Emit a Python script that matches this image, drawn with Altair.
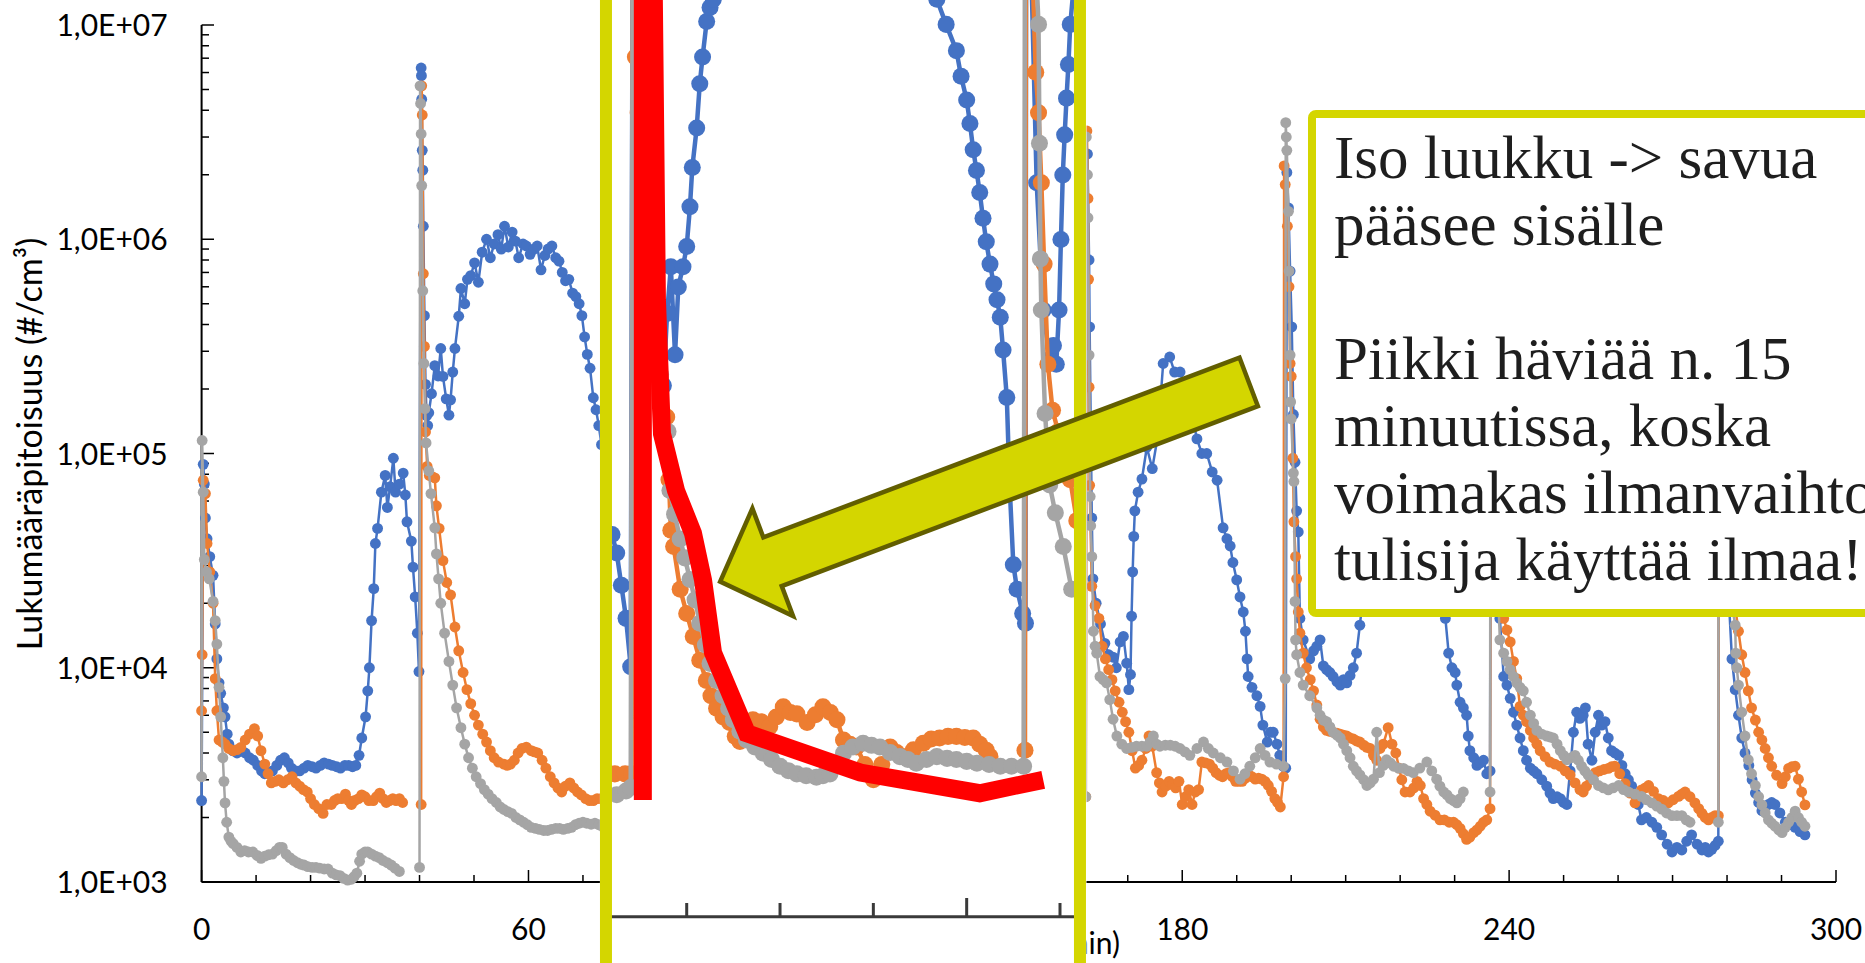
import altair as alt
import pandas as pd

# ---------------- data (minutes, particles/cm3); None = gap in the record ----------------
BLUE = [
    (0.0, 2400), (0.3, 89000), (0.5, 72000), (0.7, 50000), (1.0, 40000), (1.5, 33000), (2.1, 27000),
    (2.5, 16000), (2.8, 11000), (3.2, 8500), (3.5, 7600), (4.0, 6500), (4.3, 5900), (4.7, 4900),
    (5.0, 4400), (5.7, 4100), (6.5, 4000), (7.3, 4100), (8.0, 4000), (8.8, 3800), (9.5, 3700),
    (10.3, 3500), (11.0, 3300), (11.6, 3200), (12.3, 3250), (13.0, 3300), (13.8, 3500), (14.5, 3700),
    (15.2, 3800), (15.9, 3600), (16.5, 3400), (17.3, 3300), (18.0, 3300), (18.8, 3400), (19.5, 3500),
    (20.3, 3450), (21.0, 3400), (21.8, 3500), (22.5, 3600), (23.3, 3550), (24.0, 3500), (24.8, 3450),
    (25.5, 3400), (26.3, 3500), (27.0, 3500), (27.7, 3450), (28.3, 3500), (28.9, 3900), (29.4, 4700),
    (30.1, 5900), (30.5, 7800), (30.8, 10000), (31.2, 16600), (31.6, 23400), (31.9, 38000), (32.3, 44700),
    (33.0, 66000), (33.7, 79000), (34.1, 56000), (34.6, 70000), (35.2, 95000), (35.6, 66000), (36.3, 72000),
    (37.0, 81000), (37.4, 64000), (37.7, 48000), (38.5, 39000), (38.8, 29500), (39.2, 21400), (39.6, 14500),
    (39.9, 9600), (40.3, 6300000), (40.35, 5800000), (40.4, 4500000), (40.5, 2600000), (40.6, 2100000),
    (40.7, 1150000), (40.9, 440000), (41.1, 210000), (41.3, 150000), (41.5, 135000), (41.7, 155000),
    (42.2, 190000), (42.8, 257000), (43.4, 230000), (43.9, 309000), (44.3, 229000), (44.9, 180000),
    (45.4, 151000), (45.7, 178000), (46.1, 240000), (46.5, 309000), (47.2, 437000), (47.6, 589000),
    (48.3, 500000), (48.8, 650000), (49.4, 676000), (50.1, 776000), (50.8, 630000), (51.5, 870000),
    (52.3, 1000000), (53.0, 820000), (53.7, 950000), (54.4, 1050000), (55.0, 900000), (55.6, 1150000),
    (56.3, 920000), (57.0, 1080000), (57.6, 980000), (58.2, 820000), (59.0, 950000), (59.6, 930000),
    (60.3, 850000), (61.0, 900000), (61.6, 930000), (62.3, 720000), (63.0, 840000), (63.6, 900000),
    (64.3, 930000), (65.0, 820000), (65.6, 790000), (66.2, 700000), (66.8, 640000), (67.4, 650000),
    (68.1, 560000), (68.7, 540000), (69.3, 500000), (69.8, 440000), (70.3, 350000), (70.8, 290000),
    (71.3, 250000), (71.9, 182000), (72.4, 160000), (72.9, 135000), (73.4, 110000),
    (76.0, 50000), (79.0, 20000),
    (81.5, 12500), (82.0, 11000), (82.5, 9800), (83.0, 8000), (83.5, 6500), (84.0, 4800),
    (84.3, 3500000), (84.8, 500000), (85.5, 120000), (86.3, 50000), (87.0, 32000), (87.5, 28000),
    (87.9, 44000), (88.3, 59000), (88.75, 34000), (89.1, 52000), (89.6, 59000), (90.0, 67000),
    (90.35, 86000), (90.6, 110000), (91.07, 141000), (91.4, 186000), (91.7, 220000), (92.14, 275000),
    (92.5, 300000), (92.85, 316000), (94.0, 480000), (97.0, 800000), (101.0, 1000000), (106.0, 1100000),
    (111.0, 850000), (114.5, 500000), (116.8, 316000), (117.8, 270000), (118.9, 229000), (119.4, 195000),
    (120.0, 168000), (120.35, 145000), (120.7, 123000), (121.05, 108000), (121.4, 94000), (121.75, 80000),
    (122.1, 69000), (122.5, 60000), (122.9, 53000), (123.25, 48000), (123.6, 43000), (123.9, 35000),
    (124.3, 26000), (124.6, 15000), (125.0, 9100), (125.4, 7800), (126.0, 6700), (126.3, 6300),
    (126.4, 3000000), (126.9, 400000), (127.5, 100000), (128.2, 45000), (128.9, 33000), (129.3, 36000),
    (129.6, 32000), (129.9, 45000), (130.1, 70000), (130.3, 105000), (130.5, 135000), (130.7, 170000),
    (130.9, 210000), (131.1, 270000), (131.5, 350000),
    (136.0, 800000), (142.0, 1000000), (148.0, 700000), (154.0, 200000), (158.0, 50000), (161.5, 15000),
    (162.6, 2500000), (162.9, 800000), (163.0, 390000), (163.4, 50000), (163.6, 26000), (164.2, 20000),
    (165.0, 16000), (165.8, 13000), (166.5, 11500), (167.3, 11200), (167.9, 10000), (168.6, 13200),
    (169.2, 14000), (169.8, 10500), (170.2, 7900), (170.5, 9300), (170.7, 17400), (170.9, 28000),
    (171.1, 41000), (171.3, 54000), (171.9, 66000), (172.6, 76000), (173.5, 107000), (174.5, 85000),
    (175.5, 120000), (176.5, 263000), (177.7, 282000), (178.6, 240000), (179.6, 240000), (180.6, 200000),
    (181.6, 160000), (182.7, 117000), (183.6, 100000), (184.5, 100000), (185.5, 82000), (186.4, 75000),
    (187.5, 45000), (188.2, 40000), (188.8, 37000), (189.3, 31000), (190.0, 25700), (190.6, 21400),
    (191.2, 18200), (191.6, 14800), (191.9, 11000), (192.1, 9100), (192.8, 8100), (193.7, 7400),
    (194.3, 6600), (194.8, 5400), (195.6, 4500), (196.2, 5000), (196.7, 5000), (197.4, 4400),
    (197.9, 3900), (198.5, 3470), (199.0, 3400),
    (199.2, 2050000), (199.5, 1400000), (199.8, 710000), (200.1, 390000), (200.4, 152000), (200.7, 91000),
    (201.0, 54000), (201.3, 43000), (201.6, 17000), (202.2, 13500), (203.4, 11000), (204.1, 12000),
    (204.7, 12600), (205.3, 13500), (205.9, 10200), (206.5, 9800), (207.1, 9500), (207.7, 9100),
    (208.4, 8600), (209.0, 8300), (209.6, 8800), (210.2, 8500), (210.8, 9200), (211.4, 10000),
    (212.0, 11700), (212.6, 15800),
    (213.5, 25000), (215.0, 60000), (217.0, 120000), (219.0, 200000), (221.0, 250000), (223.0, 180000),
    (225.0, 90000), (227.0, 35000),
    (228.3, 17000), (228.9, 11700), (229.5, 10000), (230.1, 9500), (230.4, 8300), (231.0, 6900),
    (231.6, 6500), (232.2, 6000), (232.5, 4800), (232.8, 4100), (233.5, 3800), (234.1, 3500),
    (234.7, 3600), (235.3, 3700), (235.9, 3200), (236.5, 3300),
    (236.7, 1500000), (237.3, 150000), (237.9, 30000), (238.3, 17000), (239.0, 9100), (239.6, 8300),
    (240.2, 7200), (240.8, 6200), (241.4, 5400), (242.0, 4700), (242.6, 4100), (243.2, 3700),
    (243.9, 3400), (244.5, 3300), (245.1, 3200), (246.0, 3000), (246.9, 2800), (247.5, 2600),
    (248.1, 2450), (248.8, 2500), (249.4, 2450), (250.0, 2350), (250.6, 2300), (251.2, 3300),
    (251.8, 5000), (252.4, 6200), (253.0, 5800), (253.6, 6000), (254.0, 6500), (254.5, 4400),
    (255.2, 3700), (255.8, 5000), (256.4, 6000), (257.0, 5400), (257.6, 5600), (258.2, 4700),
    (258.8, 4100), (259.4, 4000), (260.1, 3900), (260.7, 3500), (261.3, 3200), (261.9, 3000),
    (262.5, 2800), (263.1, 2550), (263.7, 2300), (264.3, 1950), (265.2, 2000), (266.2, 1900),
    (267.1, 1800), (268.0, 1660), (269.0, 1500), (269.9, 1380), (270.8, 1450), (271.7, 1410),
    (272.6, 1550), (273.5, 1660), (274.5, 1500), (275.4, 1410), (276.0, 1450), (276.6, 1380),
    (277.2, 1420), (277.8, 1480), (278.4, 1550),
    (278.6, 1500000), (279.2, 200000), (280.0, 30000), (280.9, 11000), (281.5, 7900), (282.1, 6000),
    (282.7, 4700), (283.3, 4000), (284.0, 3500), (284.6, 3000), (285.2, 2600), (285.8, 2350),
    (286.4, 2150), (287.0, 2250), (287.6, 2300), (288.2, 2350), (288.8, 2300), (289.7, 2100),
    (290.7, 1900), (291.6, 1850), (292.5, 1800), (293.4, 1720), (294.3, 1660),
]

ORANGE = [
    (0.0, 6300), (0.1, 11500), (0.3, 75000), (0.7, 65000), (1.0, 38000), (1.5, 28000), (2.1, 20000),
    (2.5, 8900), (2.8, 6300), (3.2, 4600), (3.8, 4500), (4.3, 4400), (5.0, 4200), (5.8, 4100),
    (6.5, 4150), (7.2, 4250), (8.0, 4600), (8.8, 4900), (9.7, 5200), (10.3, 4800), (10.9, 4100),
    (11.6, 3550), (12.2, 3200), (12.8, 2900), (13.5, 2950), (14.2, 3000), (15.0, 2900), (15.8, 3000),
    (16.6, 3100), (17.3, 2900), (18.0, 2800), (18.7, 2700), (19.4, 2630), (20.0, 2450), (20.7, 2300),
    (21.5, 2200), (22.3, 2090), (23.0, 2300), (23.8, 2300), (24.4, 2400), (25.0, 2450), (25.7, 2450),
    (26.4, 2570), (27.0, 2400), (27.5, 2300), (28.1, 2400), (28.8, 2450), (29.4, 2550), (30.0, 2500),
    (30.7, 2400), (31.5, 2400), (32.1, 2500), (32.7, 2600), (33.3, 2450), (33.9, 2350), (34.5, 2400),
    (35.1, 2450), (35.7, 2400), (36.3, 2450), (36.9, 2350),
    None,
    (40.3, 2300), (40.4, 5200000), (40.5, 3800000), (40.7, 690000), (40.9, 316000), (41.1, 126000),
    (41.4, 87000), (41.8, 79000), (42.3, 78000), (42.8, 77000), (43.1, 57000), (43.6, 44700),
    (44.3, 31600), (45.0, 25000), (45.7, 21900), (46.5, 15500), (47.2, 12000), (48.0, 9500),
    (48.7, 7900), (49.4, 6800), (50.1, 6000), (50.8, 5400), (51.6, 4900), (52.3, 4500), (53.0, 4100),
    (53.7, 3800), (54.5, 3630), (55.5, 3550), (56.1, 3500), (56.7, 3550), (57.4, 3700), (58.1, 4000),
    (58.8, 4200), (59.6, 4260), (60.5, 4100), (61.1, 4050), (61.7, 4000), (62.5, 3700), (63.2, 3400),
    (64.0, 3100), (64.7, 2900), (65.4, 2750), (66.1, 2630), (66.8, 2800), (67.6, 2900), (68.3, 2750),
    (69.0, 2630), (69.7, 2550), (70.5, 2450), (71.2, 2400), (71.9, 2400), (72.6, 2450), (73.3, 2450),
    (77.0, 2500), (80.0, 2500),
    (81.5, 2500), (82.3, 2450), (83.4, 2450), (84.1, 2450), (84.3, 3500000), (84.5, 220000),
    (84.8, 155000), (85.2, 76000), (85.8, 52000), (86.5, 35000), (87.2, 27000), (87.86, 23000),
    (88.1, 15500), (88.3, 11300), (88.6, 10200), (89.3, 7800), (90.0, 6700), (90.7, 5800),
    (91.4, 5000), (92.1, 4400), (92.6, 4000), (93.2, 3700), (93.9, 3500), (94.6, 3380), (95.2, 3100),
    (95.7, 3000), (96.4, 3200), (97.1, 3440), (98.0, 3400), (98.9, 3300), (99.6, 3500), (100.35, 3730),
    (101.1, 3600), (101.8, 3570), (102.9, 3380), (103.8, 3550), (104.6, 3730), (105.4, 3600),
    (106.1, 3440), (106.8, 3030), (107.5, 2950), (108.2, 2900), (109.1, 2600), (110.0, 2360),
    (110.9, 2600), (111.8, 2900), (112.5, 2800), (113.2, 2730), (114.3, 2850), (115.35, 2970),
    (116.2, 3050), (117.1, 3070), (118.0, 3100), (118.9, 3100), (119.8, 3080), (120.7, 3070),
    (121.4, 2950), (122.1, 2840), (122.5, 2730),
    None,
    (126.25, 2840), (126.4, 3500000), (126.9, 500000), (127.4, 200000), (127.7, 155000), (128.0, 100000),
    (128.3, 60000), (128.7, 32000), (129.2, 24000), (129.8, 21000), (130.4, 17500), (131.1, 15500),
    (131.8, 12000),
    (136.0, 6000), (145.0, 3500), (155.0, 2800), (160.0, 2600),
    None,
    (162.3, 2500), (162.5, 3200000), (162.7, 1550000), (162.8, 650000), (162.9, 204000), (163.0, 71000),
    (163.4, 24000), (164.0, 19500), (164.7, 17000), (165.3, 12600), (165.9, 11000), (166.5, 9800),
    (167.1, 8800), (167.7, 7800), (168.4, 6900), (169.0, 6200), (169.6, 5600), (170.2, 5000),
    (170.8, 4100), (171.4, 3400), (172.0, 3500), (172.6, 3700), (173.3, 4200), (173.9, 4800),
    (174.5, 4300), (175.3, 3240), (175.8, 2900), (176.3, 2630), (177.0, 2800), (177.6, 2950),
    (178.2, 2850), (178.8, 2750), (179.4, 2950), (180.0, 2300), (180.6, 2500), (181.2, 2700),
    (181.8, 2300), (182.4, 2630), (183.0, 2700), (183.6, 3630), (184.3, 3600), (185.0, 3550),
    (185.6, 3400), (186.2, 3240), (186.8, 3150), (187.4, 3100), (188.0, 3200), (188.6, 3240),
    (189.2, 3100), (189.8, 2950), (190.4, 2950), (191.0, 2950), (191.6, 3050), (192.2, 3160),
    (192.8, 3100), (193.4, 3020), (194.0, 3050), (194.6, 3020), (195.2, 2950), (195.8, 2820),
    (196.4, 2650), (197.0, 2450), (197.5, 2350), (198.0, 2240), (198.6, 3100),
    (198.7, 2200000), (198.9, 1800000), (199.3, 1150000), (199.6, 600000), (199.8, 263000), (200.0, 229000),
    (200.3, 95000), (200.5, 48000), (200.8, 33000), (201.0, 26000), (201.3, 18200), (201.6, 14500),
    (202.2, 11700), (202.8, 10000), (203.5, 8800), (204.1, 7800), (204.7, 6700), (205.3, 5750),
    (205.9, 5300), (206.5, 5100), (207.1, 5050), (207.7, 5000), (208.4, 4950), (209.0, 4900),
    (209.6, 4850), (210.2, 4800), (210.8, 4700), (211.4, 4650), (212.0, 4550), (212.6, 4500),
    (213.3, 4350), (213.9, 4250), (214.5, 4200), (215.1, 3900), (215.7, 3700), (216.3, 4200),
    (216.9, 4400), (217.8, 5250), (218.5, 4400), (219.2, 4000), (219.8, 3400), (220.3, 3000),
    (220.9, 2630), (221.8, 2630), (222.5, 2750), (223.1, 2950), (223.7, 2820), (224.3, 2450),
    (224.9, 2300), (225.5, 2140), (226.4, 2050), (227.3, 1950), (228.1, 1950), (229.0, 1900),
    (229.8, 1900), (230.4, 1850), (231.0, 1780), (231.6, 1680), (232.2, 1580), (232.8, 1620),
    (233.5, 1700), (234.1, 1750), (234.7, 1820), (235.3, 1900), (235.9, 1950), (236.5, 2200),
    (236.7, 1500000), (237.3, 200000), (238.2, 30000), (239.0, 17000), (239.6, 15000), (240.2, 13200),
    (240.8, 10700), (241.4, 8900), (242.0, 6600), (242.6, 6000), (243.2, 5600), (243.9, 5100),
    (244.5, 4700), (245.1, 4400), (245.7, 4100), (246.6, 3850), (247.5, 3630), (248.4, 3550),
    (249.4, 3470), (250.3, 3300), (251.2, 3160), (252.1, 2900), (253.0, 2700), (253.6, 2630),
    (254.2, 2800), (255.0, 3000), (255.8, 3240), (256.6, 3300), (257.4, 3350), (258.2, 3390),
    (258.8, 3450), (259.4, 3470), (260.3, 3200), (261.3, 2880), (262.2, 2600), (263.1, 2340),
    (263.7, 2500), (264.3, 2690), (265.0, 2750), (265.6, 2820), (266.5, 2650), (267.4, 2450),
    (268.3, 2400), (269.2, 2340), (270.1, 2420), (271.1, 2510), (271.7, 2570), (272.3, 2630),
    (273.2, 2500), (274.1, 2340), (274.8, 2200), (275.4, 2090), (276.0, 2000), (276.6, 1950),
    (277.2, 2000), (277.8, 2040), (278.4, 2040),
    (278.6, 1200000), (279.3, 150000), (280.3, 40000), (281.2, 22000), (282.1, 14800), (282.7, 11500),
    (283.3, 9500), (283.9, 7800), (284.5, 6500), (285.2, 5700), (285.8, 5000), (286.4, 4600),
    (287.0, 4200), (287.6, 3800), (288.2, 3470), (289.1, 3150), (290.1, 2880), (290.7, 3100),
    (291.3, 3390), (291.9, 3450), (292.5, 3470), (293.1, 3020), (293.7, 2630), (294.3, 2290),
]

GRAY = [
    (0.0, 3100), (0.1, 115000), (0.3, 66000), (0.5, 32000), (0.9, 28000), (1.4, 26000), (2.1, 20400),
    (2.5, 16600), (2.8, 12900), (3.2, 8100), (3.5, 5900), (3.9, 3800), (4.1, 2950), (4.3, 2340),
    (4.6, 1900), (5.0, 1620), (5.4, 1550), (5.8, 1510), (6.5, 1450), (7.2, 1380), (7.9, 1400),
    (8.6, 1380), (9.4, 1380), (10.2, 1330), (10.9, 1290), (11.6, 1320), (12.3, 1340), (13.0, 1350),
    (13.7, 1400), (14.3, 1450), (14.8, 1450), (15.5, 1350), (16.2, 1300), (16.9, 1260), (17.6, 1230),
    (18.2, 1210), (18.8, 1200), (19.5, 1180), (20.3, 1170), (21.0, 1170), (21.7, 1160), (22.5, 1150),
    (23.2, 1150), (24.0, 1100), (24.7, 1080), (25.4, 1070), (26.1, 1040), (26.8, 1020), (27.5, 1030),
    (28.0, 1060), (28.5, 1100), (29.0, 1250), (29.4, 1350), (30.0, 1380), (30.5, 1380), (31.2, 1350),
    (31.9, 1320), (32.6, 1300), (33.3, 1260), (34.1, 1230), (34.8, 1200), (35.5, 1160), (36.3, 1120),
    None,
    (40.0, 1170), (40.1, 5200000), (40.2, 4300000), (40.3, 3100000), (40.4, 1780000), (40.6, 575000),
    (40.8, 263000), (41.0, 162000), (41.2, 112000), (41.7, 83000), (42.1, 65000), (42.8, 45000),
    (43.1, 34000), (43.5, 26000), (43.9, 20000), (44.6, 14500), (45.4, 10700), (46.1, 8300),
    (46.8, 6500), (47.6, 5250), (48.3, 4400), (49.0, 3800), (49.7, 3400), (50.4, 3100), (51.2, 2880),
    (51.9, 2700), (52.6, 2570), (53.3, 2450), (54.1, 2350), (54.8, 2240), (55.5, 2180), (56.2, 2130),
    (56.9, 2090), (57.7, 2000), (58.4, 1950), (59.1, 1900), (59.8, 1850), (60.5, 1800), (61.3, 1780),
    (62.0, 1760), (62.8, 1740), (63.5, 1740), (64.2, 1760), (65.0, 1780), (65.7, 1780), (66.4, 1760),
    (67.2, 1780), (67.9, 1800), (68.6, 1850), (69.3, 1880), (70.0, 1900), (70.7, 1880), (71.5, 1860),
    (72.2, 1880), (72.9, 1850), (73.5, 1820),
    (77.0, 1900), (80.0, 2000),
    (81.5, 2100), (82.5, 2150), (83.5, 2200), (84.0, 2250), (84.3, 4000000), (84.8, 400000),
    (85.5, 120000), (86.3, 50000), (87.2, 30000), (88.0, 21000), (88.2, 14500), (88.7, 12500),
    (89.3, 10700), (89.8, 9500), (90.35, 8300), (90.9, 7300), (91.4, 6300), (92.0, 5500), (92.5, 4900),
    (93.2, 4400), (93.9, 4000), (94.5, 3700), (95.0, 3440), (95.7, 3200), (96.4, 3030), (97.3, 2900),
    (98.2, 2790), (99.1, 2680), (100.0, 2570), (100.9, 2500), (101.8, 2450), (102.8, 2420),
    (103.9, 2400), (104.6, 2420), (105.35, 2450), (106.1, 2600), (106.8, 2790), (107.8, 2900),
    (108.9, 2970), (109.8, 2930), (110.7, 2900), (111.8, 2800), (112.85, 2730), (113.7, 2680),
    (114.6, 2620), (115.7, 2680), (116.8, 2730), (117.9, 2700), (118.9, 2680), (120.0, 2650),
    (121.1, 2620), (122.4, 2600), (123.6, 2570), (124.8, 2570), (126.1, 2570),
    (126.3, 4000000), (126.9, 1000000), (127.5, 350000), (127.7, 270000), (127.8, 128000), (127.9, 62000),
    (128.0, 45000), (128.4, 23500), (128.9, 15000), (129.5, 12600), (130.35, 10200), (131.25, 7800),
    (132.0, 6500),
    (140.0, 3500), (150.0, 2800), (160.0, 2600),
    None,
    (162.3, 2500), (162.4, 3000000), (162.6, 2000000), (162.7, 1260000), (162.9, 288000), (163.1, 63000),
    (163.2, 46000), (163.4, 33000), (163.7, 14800), (164.0, 12600), (164.3, 11700), (164.9, 9100),
    (165.5, 8800), (166.1, 8500), (166.7, 7100), (167.3, 5750), (168.0, 4800), (168.9, 4400),
    (169.8, 4200), (170.7, 4250), (171.6, 4300), (172.6, 4300), (173.5, 4300), (174.1, 4500),
    (174.7, 4800), (175.3, 4400), (175.9, 4300), (176.9, 4350), (177.8, 4350), (178.7, 4300),
    (179.6, 4200), (180.5, 4050), (181.4, 3900), (182.7, 4200), (183.9, 4500), (184.8, 4200),
    (185.7, 4000), (187.0, 3800), (188.2, 3630), (189.4, 3300), (190.6, 3020), (191.5, 3200),
    (192.4, 3470), (193.4, 3800), (194.3, 4200), (195.2, 3900), (196.1, 3630), (197.3, 3550),
    (198.6, 3470), (198.9, 8900),
    (199.0, 3500000), (199.1, 3000000), (199.2, 2600000), (199.5, 1350000), (199.6, 710000), (199.8, 288000),
    (199.9, 174000), (200.0, 145000), (200.4, 81000), (200.5, 74000), (200.7, 20400), (200.8, 13500),
    (201.0, 11500), (201.6, 9500), (202.2, 8300), (203.4, 7400), (204.7, 6500), (205.3, 6000),
    (205.9, 5700), (206.5, 5600), (207.1, 5300), (207.7, 5000), (208.4, 4850), (209.0, 4700),
    (209.6, 4400), (210.2, 4100), (210.8, 3800), (211.4, 3470), (212.0, 3300), (212.6, 3160),
    (213.3, 3000), (213.9, 2820), (214.5, 2900), (215.1, 3020), (215.7, 5000), (216.2, 3240),
    (216.9, 3500), (217.5, 3720), (218.2, 3600), (218.8, 3470), (219.7, 3400), (220.6, 3390),
    (221.5, 3300), (222.4, 3240), (223.6, 3400), (224.9, 3630), (225.8, 3300), (226.7, 3020),
    (227.3, 2800), (228.0, 2630), (228.6, 2550), (229.2, 2450), (229.8, 2400), (230.4, 2340),
    (231.0, 2450), (231.6, 2630),
    None,
    (236.5, 2630), (236.6, 2000000), (237.0, 300000), (237.6, 40000), (238.3, 13500), (239.0, 11700),
    (239.6, 10700), (240.2, 9800), (240.8, 9100), (241.4, 8500), (242.0, 8100), (242.6, 7800),
    (243.2, 6900), (243.9, 6000), (244.5, 5500), (245.1, 5100), (246.0, 4900), (246.9, 4800),
    (247.5, 4750), (248.1, 4700), (248.8, 4400), (249.4, 4100), (250.0, 3900), (250.6, 3720),
    (251.4, 3800), (252.1, 3900), (252.7, 3700), (253.3, 3470), (253.9, 3300), (254.5, 3160),
    (255.5, 3000), (256.4, 2820), (257.3, 2750), (258.2, 2690), (259.1, 2750), (260.1, 2820),
    (261.0, 2700), (261.9, 2630), (263.1, 2570), (264.3, 2510), (265.2, 2420), (266.2, 2340),
    (267.1, 2260), (268.0, 2190), (268.9, 2100), (269.9, 2040), (270.8, 2040), (271.7, 2040),
    (272.5, 1950), (273.2, 1900),
    None,
    (278.4, 1900), (278.5, 1500000), (279.0, 200000), (279.8, 40000), (280.6, 22000), (281.5, 15800),
    (281.6, 11700), (281.8, 10000), (282.1, 8300), (282.7, 6200), (283.3, 4800), (283.9, 3720),
    (284.5, 3200), (285.2, 2820), (285.8, 2500), (286.4, 2290), (287.0, 2100), (287.6, 1950),
    (288.2, 1880), (288.8, 1820), (289.5, 1750), (290.1, 1700), (290.7, 1800), (291.3, 1900),
    (291.9, 2000), (292.5, 2140), (293.1, 2000), (293.7, 1900), (294.3, 1820),
]

# hand-drawn red annotation inside the magnified inset (inset minutes, concentration)
RED_BAR = [(85.3, 2080), (85.3, 1000000)]
RED_CURVE = [(86.28, 1000000), (86.81, 48000), (87.35, 20700), (88.85, 14500), (90.67, 11100),
             (91.75, 8260), (92.82, 5240), (96.46, 3160), (108.6, 2470), (121.4, 2170), (128.2, 2360)]

Y_TICK_VALUES = [1e3, 1e4, 1e5, 1e6, 1e7]
Y_TICK_LABELS = ["1,0E+03", "1,0E+04", "1,0E+05", "1,0E+06", "1,0E+07"]
X_TICK_VALUES = [0, 60, 120, 180, 240, 300]
X_TICK_LABELS = ["0", "60", "120", "180", "240", "300"]
INSET_TICKS = [90, 100, 110, 120, 130]
INSET_WINDOW = [81.35, 132.14]
ARROW_TIP = (94.84, 25060)

Y_TITLE = "Lukumääräpitoisuus (#/cm³)"
X_TITLE = "Aika (min)"
BOX_LINES = ["Iso luukku -> savua", "pääsee sisälle", "", "Piikki häviää n. 15",
             "minuutissa, koska", "voimakas ilmanvaihto", "tulisija käyttää ilmaa!"]

# ---------------- styling ----------------
C_BLUE, C_ORANGE, C_GRAY = "#4472C4", "#ED7D31", "#A5A5A5"
YELLOW, OLIVE, RED, INK = "#D4D600", "#625E00", "#FF0000", "#1E1E1E"
W, H = 1865, 963

X_MAIN = alt.Scale(domain=[0, 300], range=[201.6, 1836], nice=False, zero=False)
Y_MAIN = alt.Scale(type="log", domain=[1000, 1e7], range=[882, 25], nice=False)
X_INS = alt.Scale(domain=[90, 130], range=[686.7, 1060], nice=False, zero=False)
Y_INS = alt.Scale(type="log", domain=[1000, 100000], range=[916.7, 182.7], nice=False)


def series_df(pairs):
    rows, seg, idx = [], 0, 0
    for p in pairs:
        if p is None:
            seg += 1
            continue
        rows.append({"t": p[0], "v": p[1], "seg": seg, "idx": idx})
        idx += 1
    return pd.DataFrame(rows)


def pos(xs, ys, xf="t", yf="v"):
    return dict(x=alt.X(f"{xf}:Q", scale=xs, axis=None), y=alt.Y(f"{yf}:Q", scale=ys, axis=None))


one = pd.DataFrame({"a": [0]})
layers = []

# ---------- main axes ----------
ax = pd.DataFrame({"t0": [0], "t1": [300], "v0": [1000], "v1": [1e7]})
layers.append(alt.Chart(ax).mark_rule(color="black", strokeWidth=2).encode(
    x=alt.X("t0:Q", scale=X_MAIN, axis=None), x2="t1:Q", y=alt.Y("v0:Q", scale=Y_MAIN, axis=None)))
layers.append(alt.Chart(ax).mark_rule(color="black", strokeWidth=2).encode(
    x=alt.X("t0:Q", scale=X_MAIN, axis=None), y=alt.Y("v0:Q", scale=Y_MAIN, axis=None), y2="v1:Q"))

xt = pd.DataFrame({"t": list(range(0, 301, 10))})
xt["v"] = 1000
xt["major"] = xt["t"] % 60 == 0
layers.append(alt.Chart(xt).transform_filter("!datum.major").mark_rule(color="black", strokeWidth=1.5).encode(
    **pos(X_MAIN, Y_MAIN), y2=alt.value(875)))
layers.append(alt.Chart(xt).transform_filter("datum.major").mark_rule(color="black", strokeWidth=1.5).encode(
    **pos(X_MAIN, Y_MAIN), y2=alt.value(870)))

yminor = [m * 10 ** k for k in range(3, 7) for m in range(2, 10)]
ymin_df = pd.DataFrame({"v": yminor, "t": 0})
ymaj_df = pd.DataFrame({"v": Y_TICK_VALUES, "t": 0, "lab": Y_TICK_LABELS})
layers.append(alt.Chart(ymin_df).mark_rule(color="black", strokeWidth=1.5).encode(
    **pos(X_MAIN, Y_MAIN), x2=alt.value(209)))
layers.append(alt.Chart(ymaj_df).mark_rule(color="black", strokeWidth=1.5).encode(
    **pos(X_MAIN, Y_MAIN), x2=alt.value(214)))
layers.append(alt.Chart(ymaj_df).mark_text(align="right", baseline="alphabetic", dx=-34, dy=11,
                                           font="Lato", fontSize=30, color="black").encode(
    **pos(X_MAIN, Y_MAIN), text="lab:N"))

xl = pd.DataFrame({"t": X_TICK_VALUES, "lab": X_TICK_LABELS, "v": 1000})
layers.append(alt.Chart(xl).mark_text(align="center", baseline="alphabetic", dy=58,
                                      font="Lato", fontSize=30, color="black").encode(
    **pos(X_MAIN, Y_MAIN), text="lab:N"))

layers.append(alt.Chart(one).mark_text(align="center", baseline="alphabetic", angle=270,
                                       font="Lato", fontSize=34, color="black", text=Y_TITLE).encode(
    x=alt.value(42), y=alt.value(444)))
layers.append(alt.Chart(one).mark_text(align="right", baseline="alphabetic",
                                       font="Lato", fontSize=30, color="black", text=X_TITLE).encode(
    x=alt.value(1120), y=alt.value(954)))

# ---------- main series ----------
SERIES = [(BLUE, C_BLUE), (ORANGE, C_ORANGE), (GRAY, C_GRAY)]
for pairs, col in SERIES:
    df = series_df(pairs)
    base = alt.Chart(df).encode(**pos(X_MAIN, Y_MAIN), detail="seg:N", order="idx:Q")
    layers.append(base.mark_line(color=col, strokeWidth=2.5))
    layers.append(base.mark_circle(color=col, size=118, opacity=1))

# ---------- text box ----------
layers.append(alt.Chart(one).mark_rect(fill="white", stroke=YELLOW, strokeWidth=8, cornerRadius=4).encode(
    x=alt.value(1312), x2=alt.value(1910), y=alt.value(114), y2=alt.value(613)))
for i, line in enumerate(BOX_LINES):
    if not line:
        continue
    layers.append(alt.Chart(one).mark_text(align="left", baseline="alphabetic", font="Liberation Serif",
                                           fontSize=61, color=INK, text=line).encode(
        x=alt.value(1334), y=alt.value(178 + 67 * i)))

# ---------- magnified inset ----------
win = pd.DataFrame({"t0": [INSET_WINDOW[0] - 0.65], "t1": [INSET_WINDOW[1] + 0.7]})
layers.append(alt.Chart(win).mark_rect(fill="white").encode(
    x=alt.X("t0:Q", scale=X_INS, axis=None), x2="t1:Q", y=alt.value(0), y2=alt.value(H)))

flt = f"datum.t >= {INSET_WINDOW[0] + 0.25} && datum.t <= {INSET_WINDOW[1] - 0.2}"
for pairs, col in SERIES:
    df = series_df(pairs)
    base = alt.Chart(df).transform_filter(flt).encode(**pos(X_INS, Y_INS), detail="seg:N", order="idx:Q")
    layers.append(base.mark_line(color=col, strokeWidth=4.5))
    layers.append(base.mark_circle(color=col, size=290, opacity=1))

iax = pd.DataFrame({"t0": [INSET_WINDOW[0]], "t1": [INSET_WINDOW[1]], "v": [1000]})
layers.append(alt.Chart(iax).mark_rule(color="#3A3A3A", strokeWidth=3).encode(
    x=alt.X("t0:Q", scale=X_INS, axis=None), x2="t1:Q", y=alt.Y("v:Q", scale=Y_INS, axis=None)))
itk = pd.DataFrame({"t": INSET_TICKS, "v": 1000})
itk["major"] = itk["t"] % 60 == 0
layers.append(alt.Chart(itk).transform_filter("!datum.major").mark_rule(color="#3A3A3A", strokeWidth=3).encode(
    **pos(X_INS, Y_INS), y2=alt.value(903)))
layers.append(alt.Chart(itk).transform_filter("datum.major").mark_rule(color="#3A3A3A", strokeWidth=3).encode(
    **pos(X_INS, Y_INS), y2=alt.value(898)))

for pts in (RED_BAR, RED_CURVE):
    df = pd.DataFrame({"t": [p[0] for p in pts], "v": [p[1] for p in pts], "idx": range(len(pts))})
    layers.append(alt.Chart(df).mark_line(color=RED, strokeWidth=18, strokeCap="butt", strokeJoin="miter").encode(
        **pos(X_INS, Y_INS), order="idx:Q"))

bord = pd.DataFrame({"t": INSET_WINDOW})
layers.append(alt.Chart(bord).mark_rule(color=YELLOW, strokeWidth=12).encode(
    x=alt.X("t:Q", scale=X_INS, axis=None), y=alt.value(0), y2=alt.value(H)))

# ---------- arrow ----------
ARROW_PATH = "M2,0 L58,-57 L58,-26 L567,-26 L567,26 L58,26 L58,58 Z"
arr = pd.DataFrame({"t": [ARROW_TIP[0]], "v": [ARROW_TIP[1]]})
layers.append(alt.Chart(arr).mark_point(shape=ARROW_PATH, size=4, angle=339.3, filled=True, fill=YELLOW,
                                        stroke=OLIVE, strokeWidth=4.5, opacity=1, fillOpacity=1,
                                        strokeOpacity=1, strokeJoin="miter").encode(**pos(X_MAIN, Y_MAIN)))

chart = alt.layer(*layers).resolve_scale(x="independent", y="independent").properties(
    width=W, height=H, padding=0, autosize=alt.AutoSizeParams(type="none")
).configure(background="white", view=alt.ViewConfig(stroke=None))

chart.save("out.html", embed_options={"renderer": "svg", "actions": False})
